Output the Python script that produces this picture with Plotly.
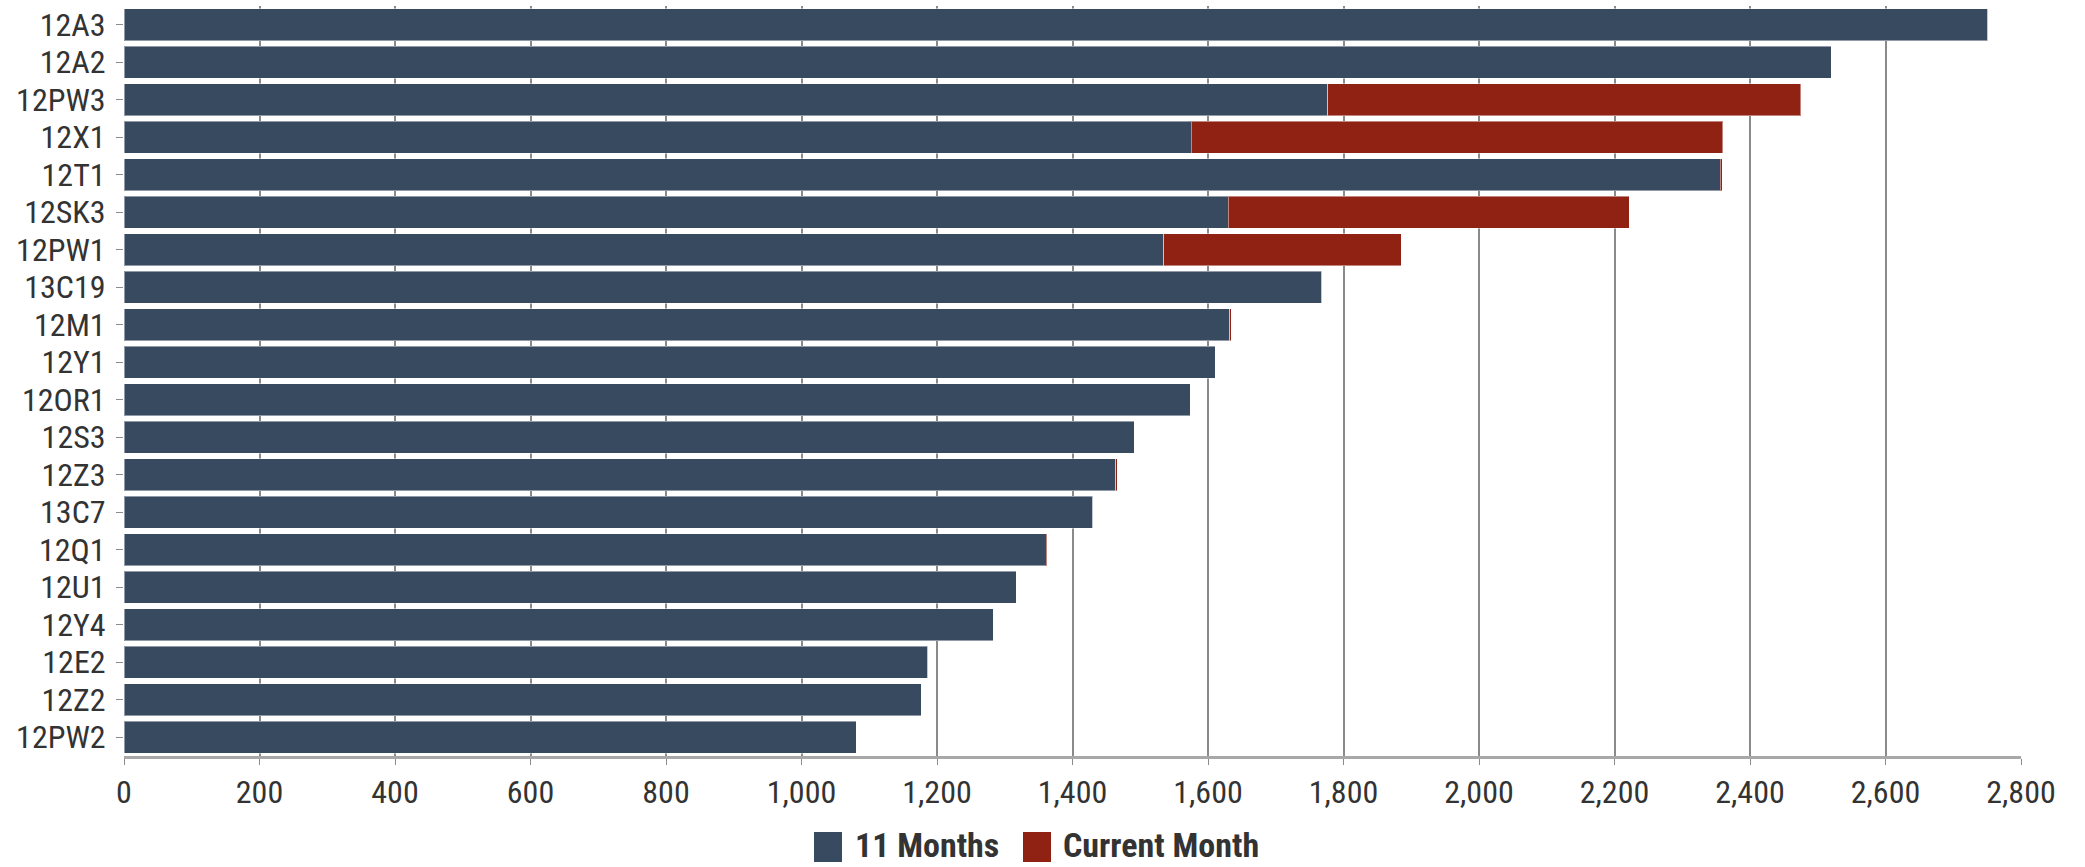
import plotly.graph_objects as go

categories = ["12A3", "12A2", "12PW3", "12X1", "12T1", "12SK3", "12PW1", "13C19", "12M1", "12Y1",
              "12OR1", "12S3", "12Z3", "13C7", "12Q1", "12U1", "12Y4", "12E2", "12Z2", "12PW2"]
eleven_months = [2751, 2520, 1777, 1575, 2356, 1630, 1535, 1768, 1632, 1611,
                 1574, 1491, 1464, 1430, 1361, 1317, 1283, 1186, 1177, 1081]
current_month = [0, 0, 698, 785, 3, 592, 350, 0, 2, 0,
                 0, 0, 2, 0, 2, 0, 0, 0, 0, 0]
series_names = ["11 Months", "Current Month"]
x_ticks = list(range(0, 2801, 200))

BLUE = "#374a5f"
RED = "#8f2213"
FONT = "Liberation Sans Narrow, Roboto Condensed, DejaVu Sans Condensed, Liberation Sans, sans-serif"

fig = go.Figure()
fig.add_trace(go.Bar(y=categories, x=eleven_months, orientation="h", name=series_names[0],
                     marker=dict(color=BLUE, line=dict(color="rgba(255,255,255,0.45)", width=1)),
                     showlegend=False))
fig.add_trace(go.Bar(y=categories, x=current_month, orientation="h", name=series_names[1],
                     marker=dict(color=RED, line=dict(color="rgba(255,255,255,0.45)", width=1)),
                     showlegend=False))

L, R, T, B = 124, 64, 6, 111
W, H = 2085, 867
pw = W - L - R
ph = H - T - B

def px2paper_x(px):
    return (px - L) / pw

def px2paper_y(py):
    return (H - B - py) / ph

shapes = []
annotations = []
legend_items = [(series_names[0], BLUE, 814, 853), (series_names[1], RED, 1023, 1061)]
for name, col, sx, tx in legend_items:
    shapes.append(dict(type="rect", xref="paper", yref="paper",
                       x0=px2paper_x(sx), x1=px2paper_x(sx + 28),
                       y0=px2paper_y(862), y1=px2paper_y(832),
                       fillcolor=col, line=dict(width=0)))
    annotations.append(dict(text=name, xref="paper", yref="paper", x=px2paper_x(tx), y=px2paper_y(845),
                            xanchor="left", yanchor="middle", showarrow=False,
                            font=dict(family=FONT, size=34, color="#333333", weight="bold")))

fig.update_layout(
    barmode="stack",
    bargap=0.155,
    width=W, height=H,
    margin=dict(l=L, r=R, t=T, b=B),
    plot_bgcolor="white", paper_bgcolor="white",
    font=dict(family=FONT, size=32, color="#333333"),
    shapes=shapes,
    annotations=annotations,
    showlegend=False,
)
fig.update_xaxes(range=[0, 2800], tickmode="array", tickvals=x_ticks, tickformat=",d",
                 showgrid=True, gridcolor="#8a8a8a", gridwidth=1.5,
                 zeroline=False, showline=True, linecolor="#a8a8a8", linewidth=3,
                 ticks="outside", ticklen=6, tickcolor="#8a8a8a", tickwidth=1,
                 tickfont=dict(size=32, color="#333333"))
fig.update_yaxes(autorange="reversed", showgrid=False, showline=False,
                 tickmode="array", tickvals=categories, ticktext=categories,
                 ticks="outside", ticklen=7, tickcolor="#8a8a8a", tickwidth=1,
                 ticklabelstandoff=4,
                 tickfont=dict(size=32, color="#333333"))

fig.write_html("out.html", config={"displayModeBar": False},
               post_script="document.body.style.margin='0';document.body.style.overflow='hidden';")
